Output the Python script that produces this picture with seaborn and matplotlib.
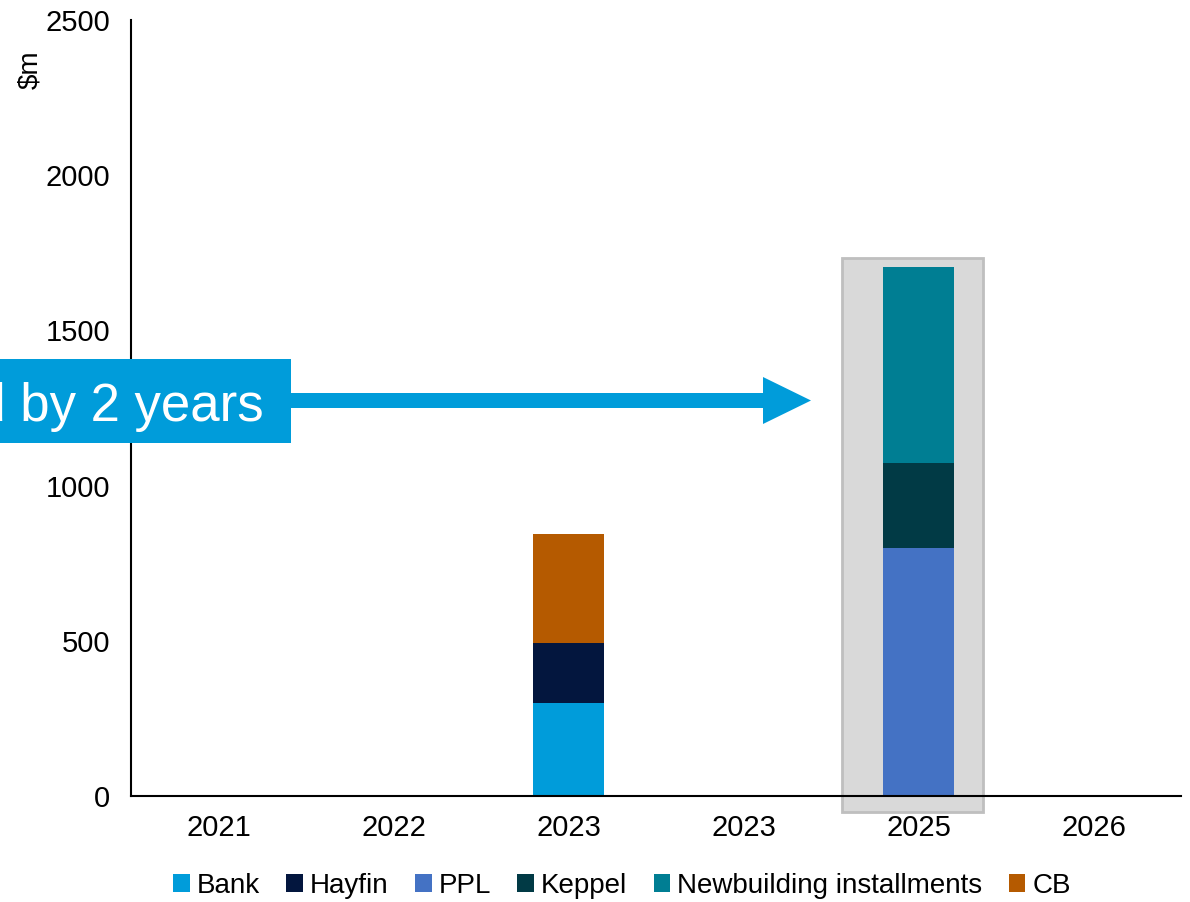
import matplotlib
matplotlib.use("Agg")
import matplotlib.pyplot as plt
import seaborn as sns
import pandas as pd
import numpy as np
from matplotlib.patches import Rectangle, Polygon

# ---- data ----
years = ["2021", "2022", "2023", "2023 ", "2025", "2026"]
tick_labels = ["2021", "2022", "2023", "2023", "2025", "2026"]
series = ["Bank", "Hayfin", "PPL", "Keppel", "Newbuilding installments", "CB"]
bank = [0, 0, 300, 0, 0, 0]
hayfin = [0, 0, 193, 0, 0, 0]
ppl = [0, 0, 0, 0, 800, 0]
keppel = [0, 0, 0, 0, 272, 0]
newbuilding = [0, 0, 0, 0, 632, 0]
cb = [0, 0, 352, 0, 0, 0]
colors = ["#009CDA", "#03163E", "#4472C4", "#013A45", "#007E93", "#B55A00"]
annotation_text = "Delayed by 2 years"

values = [bank, hayfin, ppl, keppel, newbuilding, cb]

sns.set_theme(style="white")
plt.rcParams["font.family"] = ["Liberation Sans", "DejaVu Sans"]
plt.rcParams["text.color"] = "black"

W, H = 1190, 902
fig = plt.figure(figsize=(W / 100, H / 100), dpi=100)
ax = fig.add_axes([131 / W, 1 - 796 / H, 1050 / W, 776 / H])
ax.patch.set_alpha(0)

# annotation box and arrow on figure level (behind axes)
fig.patches.append(Rectangle((0, 1 - 443 / H), 291 / W, 84 / H,
                             transform=fig.transFigure, facecolor="#009CDA",
                             edgecolor="none", zorder=0))
fig.text(264 / W, 1 - 421 / H, annotation_text, ha="right", va="baseline",
         fontsize=38, color="white", zorder=1)
ys0, ys1 = 1 - 393 / H, 1 - 408 / H
yh0, yh1, yt = 1 - 377 / H, 1 - 424 / H, 1 - 400.5 / H
arrow_pts = [(291 / W, ys0), (763 / W, ys0), (763 / W, yh0), (811 / W, yt),
             (763 / W, yh1), (763 / W, ys1), (291 / W, ys1)]
fig.patches.append(Polygon(arrow_pts, closed=True, transform=fig.transFigure,
                           facecolor="#009CDA", edgecolor="none", zorder=0))

# highlight rectangle around 2025
ax.add_patch(Rectangle((4 - 0.44, -52), 0.81, 1785, facecolor="#D9D9D9",
                       edgecolor="#BFBFBF", linewidth=2, zorder=0.5,
                       clip_on=False))

# stacked bars (cumulative heights, drawn so the shorter sits on top)
bottom = np.zeros(len(years))
for name, vals, col in zip(series, values, colors):
    d = pd.DataFrame({"year": years, "value": np.array(vals) + bottom})
    sns.barplot(data=d, x="year", y="value", color=col, width=0.406,
                ax=ax, saturation=1)
    bottom = bottom + np.array(vals)

containers = ax.containers
for i, cont in enumerate(containers):
    for p in cont.patches:
        p.set_zorder(3 + (len(containers) - i) * 0.1)
        p.set_edgecolor("none")

ax.set_xlim(-0.5, 5.5)
ax.set_ylim(0, 2500)
ax.set_yticks([0, 500, 1000, 1500, 2000, 2500])
ax.set_xticks(range(6))
ax.set_xticklabels(tick_labels)
ax.set_xlabel("")
ax.set_ylabel("")
ax.tick_params(axis="both", length=0, labelsize=21, colors="black")
ax.tick_params(axis="y", pad=15)
ax.tick_params(axis="x", pad=13)
for s in ["top", "right"]:
    ax.spines[s].set_visible(False)
for s in ["left", "bottom"]:
    ax.spines[s].set_color("black")
    ax.spines[s].set_linewidth(1.5)
    ax.spines[s].set_zorder(5)

fig.text(30 / W, 1 - 70 / H, "$m", rotation=90, ha="center", va="center",
         fontsize=20, color="black")

handles = [Rectangle((0, 0), 1, 1, facecolor=c, edgecolor="none") for c in colors]
leg = fig.legend(handles, series, loc="center", bbox_to_anchor=(622 / W, 1 - 886 / H),
                 ncol=6, frameon=False, fontsize=20, handlelength=0.6,
                 handleheight=0.6, handletextpad=0.25, columnspacing=0.95)
for t in leg.get_texts():
    t.set_color("black")

fig.savefig("out.png", dpi=100)
